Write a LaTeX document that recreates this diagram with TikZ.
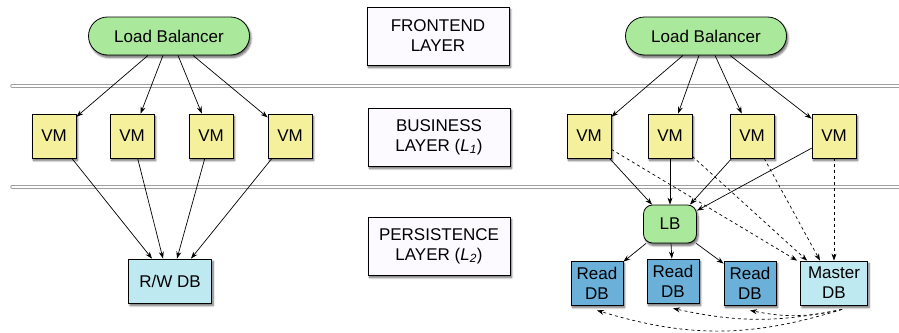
\documentclass[tikz,border=0pt]{standalone}
\usepackage{fontspec}
\setmainfont{Liberation Sans}
\usetikzlibrary{shadows,shadows.blur,arrows.meta}
\definecolor{lbgreen}{RGB}{170,232,155}
\definecolor{vmyellow}{RGB}{245,240,155}
\definecolor{dblight}{RGB}{190,233,240}
\definecolor{dbread}{RGB}{106,176,216}
\definecolor{layerfill}{RGB}{252,250,254}
\tikzset{boxshadow/.style={blur shadow={shadow xshift=1.5pt,shadow yshift=-2.5pt,shadow blur radius=2pt,shadow blur steps=6,shadow opacity=60}}}
\begin{document}
\begin{tikzpicture}
[x=1pt,y=-1pt,->,>={Stealth[length=7pt,width=5pt]},line width=0.7pt,%
  every node/.style={draw,line width=0.8pt,inner sep=0pt,align=center,%
    font=\fontsize{17}{20}\selectfont},%
  lbal/.style={boxshadow,fill=lbgreen,rounded corners=19pt,minimum width=161pt,minimum height=38pt},%
  lbsmall/.style={boxshadow,fill=lbgreen,rounded corners=9pt,minimum width=53pt,minimum height=38pt},%
  vm/.style={boxshadow,fill=vmyellow,minimum width=44pt,minimum height=44pt},%
  layer/.style={boxshadow,fill=layerfill,minimum width=142pt,minimum height=58pt},%
  rwdb/.style={boxshadow,fill=dblight,minimum width=83pt,minimum height=44pt},%
  readdb/.style={boxshadow,fill=dbread,minimum width=52pt,minimum height=44pt},%
  masterdb/.style={boxshadow,fill=dblight,minimum width=67pt,minimum height=44pt},%
  sep/.style={-,draw=gray!75,double=white,double distance=1.6pt,line width=0.9pt,line cap=round}]
\useasboundingbox (0,0) rectangle (899,332);
\draw[sep] (12,86) -- (905,86);
\draw[sep] (12,187) -- (905,187);
% layers
\node[layer] (front) at (438,36) {FRONTEND\\LAYER};
\node[layer] (biz) at (439,137) {BUSINESS\\LAYER ({\itshape L\textsubscript{1}})};
\node[layer] (pers) at (439,246) {PERSISTENCE\\LAYER ({\itshape L\textsubscript{2}})};
% left
\node[lbal] (lbl) at (169,36) {Load Balancer};
\node[vm] (vml1) at (54,136) {VM};
\node[vm] (vml2) at (132,136) {VM};
\node[vm] (vml3) at (211,136) {VM};
\node[vm] (vml4) at (290,136) {VM};
\node[rwdb] (rw) at (170,281) {R/W DB};
\draw ([xshift=-21pt]lbl.south) -- (vml1);
\draw ([xshift=-6pt]lbl.south) -- (vml2);
\draw ([xshift=9pt]lbl.south) -- (vml3);
\draw ([xshift=24pt]lbl.south) -- (vml4);
\draw (vml1) -- ([xshift=-18pt]rw.north);
\draw (vml2) -- ([xshift=-7pt]rw.north);
\draw (vml3) -- ([xshift=7pt]rw.north);
\draw (vml4) -- ([xshift=21pt]rw.north);
% right
\node[lbal] (lbr) at (706,36) {Load Balancer};
\node[vm] (vmr1) at (589,136) {VM};
\node[vm] (vmr2) at (670,136) {VM};
\node[vm] (vmr3) at (752,136) {VM};
\node[vm] (vmr4) at (834,136) {VM};
\node[lbsmall] (lbs) at (670,224) {LB};
\node[readdb] (rdb1) at (597,283) {Read\\DB};
\node[readdb] (rdb2) at (673,281) {Read\\DB};
\node[readdb] (rdb3) at (750,283) {Read\\DB};
\node[masterdb] (mdb) at (834,283) {Master\\DB};
\draw ([xshift=-23pt]lbr.south) -- (vmr1);
\draw ([xshift=-7pt]lbr.south) -- (vmr2);
\draw ([xshift=9pt]lbr.south) -- (vmr3);
\draw ([xshift=24pt]lbr.south) -- (vmr4);
\draw (vmr1) -- ([xshift=-18pt]lbs.north);
\draw (vmr2) -- (lbs.north);
\draw (vmr3) -- ([xshift=20pt]lbs.north);
\draw (vmr4) -- ([yshift=-6pt]lbs.north east);
\draw[dashed] (vmr1) -- ([xshift=-3pt]mdb.north west);
\draw[dashed] (vmr2) -- ([xshift=7pt]mdb.north west);
\draw[dashed] (vmr3) -- ([xshift=-14pt]mdb.north);
\draw[dashed] (vmr4) -- (mdb.north);
\draw (lbs) -- (rdb1);
\draw (lbs) -- (rdb2);
\draw (lbs) -- (rdb3);
\draw[dashed] ([xshift=8pt,yshift=-4pt]mdb.south) to[bend left=17] ([yshift=-5pt]rdb1.south);
\draw[dashed] ([xshift=8pt,yshift=-4pt]mdb.south) to[bend left=12] ([yshift=-5pt]rdb2.south);
\draw[dashed] ([xshift=8pt,yshift=-4pt]mdb.south) to[bend left=12] ([yshift=-5pt]rdb3.south);
\end{tikzpicture}
\end{document}
